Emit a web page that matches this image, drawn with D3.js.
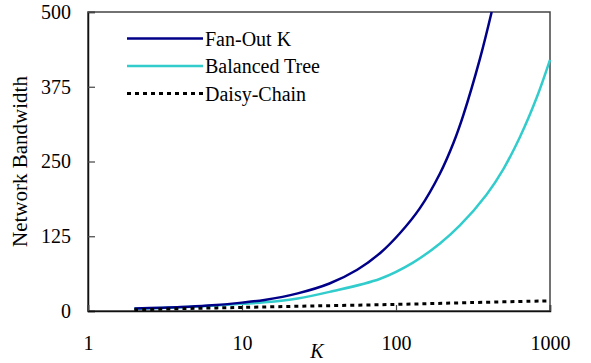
<!DOCTYPE html>
<html>
<head>
<meta charset="utf-8">
<script src="https://cdn.jsdelivr.net/npm/d3@7"></script>
<style>
  body { margin: 0; background: #fff; }
  svg text { font-family: "Liberation Serif", "Times New Roman", Times, "DejaVu Serif", serif; }
</style>
</head>
<body>
<svg></svg>
<script>
// chart size
let width = 591;
let height = 363;
const svg = d3.select("svg").attr("width", width).attr("height", height);

const serif = "'Liberation Serif', 'Times New Roman', Times, 'DejaVu Serif', serif";

// values
const fanK = [2, 4, 6, 10, 14, 23, 37, 56, 79, 106, 143, 193, 236, 274, 351, 418];
const fanOut = [4, 6.5, 9, 14, 18.5, 29.5, 46, 69, 97, 130, 172, 230, 281, 328, 422, 500];

const treeK = [2, 4, 6, 10, 14, 23, 37, 79, 129, 193, 260, 388, 497, 638, 820, 1000];
const balancedTree = [3.8, 6.3, 8.5, 12, 14.5, 21, 32, 54, 81, 113, 143, 195, 237, 291, 357, 420];

const chainK = [2, 5, 10, 30, 100, 300, 1000];
const daisyChain = [2, 4.5, 6, 8.5, 11, 14, 17];

const xTicks = [1, 10, 100, 1000];
const yTicks = [0, 125, 250, 375, 500];

const seriesNames = ["Fan-Out K", "Balanced Tree", "Daisy-Chain"];

let margin = { left: 88, right: 41, top: 12, bottom: 52 };

let x = d3.scaleLog().domain([1, 1000]).range([margin.left, width - margin.right]);
let y = d3.scaleLinear().domain([0, 500]).range([height - margin.bottom, margin.top]);

// frame
svg.append("rect")
    .attr("x", x.range()[0])
    .attr("y", y.range()[1])
    .attr("width", x.range()[1] - x.range()[0])
    .attr("height", y.range()[0] - y.range()[1])
    .attr("fill", "none")
    .attr("stroke", "#444")
    .attr("stroke-width", 1.5);

// axes, ticks pointing inside
let yAxis = svg.append("g")
    .attr("transform", "translate(" + margin.left + ",0)")
    .call(d3.axisLeft(y).tickValues(yTicks).tickSize(-7).tickPadding(17));

let xAxis = svg.append("g")
    .attr("transform", "translate(0," + (height - margin.bottom) + ")")
    .call(d3.axisBottom(x).tickValues(xTicks).tickSize(-6).tickPadding(25).tickFormat(d3.format("d")));

for (const ax of [xAxis, yAxis]) {
    ax.attr("font-family", serif);
    ax.select(".domain").attr("stroke", "#111").attr("stroke-width", 1.5);
    ax.selectAll(".tick line").attr("stroke", "#444").attr("stroke-width", 1.2);
    ax.selectAll(".tick text")
        .attr("fill", "#000")
        .style("font-size", "20px")
        .style("font-family", serif);
}

// axis titles
svg.append("text")
    .attr("transform", "translate(27," + ((y.range()[0] + y.range()[1]) / 2) + ") rotate(-90)")
    .attr("text-anchor", "middle")
    .style("font-family", serif)
    .style("font-size", "21px")
    .text("Network Bandwidth");

svg.append("text")
    .attr("x", 317)
    .attr("y", 358)
    .attr("text-anchor", "middle")
    .style("font-family", serif)
    .style("font-size", "20px")
    .style("font-style", "italic")
    .text("K");

// lines
let line = d3.line()
    .x(function (d) { return x(d[0]); })
    .y(function (d) { return y(d[1]); })
    .curve(d3.curveCatmullRom.alpha(0.5));

let series = [
    { name: seriesNames[1], pts: d3.zip(treeK, balancedTree), color: "#33cccc", dash: null, w: 2.5 },
    { name: seriesNames[0], pts: d3.zip(fanK, fanOut), color: "#000088", dash: null, w: 2.5 },
    { name: seriesNames[2], pts: d3.zip(chainK, daisyChain), color: "#000", dash: "4,4", w: 3 }
];

svg.selectAll("path.series")
    .data(series)
    .enter()
    .append("path")
    .attr("class", "series")
    .attr("d", function (d) { return line(d.pts); })
    .attr("fill", "none")
    .attr("stroke", function (d) { return d.color; })
    .attr("stroke-width", function (d) { return d.w; })
    .attr("stroke-dasharray", function (d) { return d.dash; });

// legend
let legendItems = [series[1], series[0], series[2]];
let legend = svg.append("g").selectAll("g")
    .data(legendItems)
    .enter()
    .append("g")
    .attr("transform", function (d, i) { return "translate(127," + (38.5 + i * 27.5) + ")"; });

legend.append("line")
    .attr("x1", 0).attr("x2", 76)
    .attr("stroke", function (d) { return d.color; })
    .attr("stroke-width", function (d) { return d.w; })
    .attr("stroke-dasharray", function (d) { return d.dash; });

legend.append("text")
    .attr("x", 78)
    .attr("dy", "0.35em")
    .style("font-family", serif)
    .style("font-size", "20px")
    .text(function (d) { return d.name; });
</script>
</body>
</html>
